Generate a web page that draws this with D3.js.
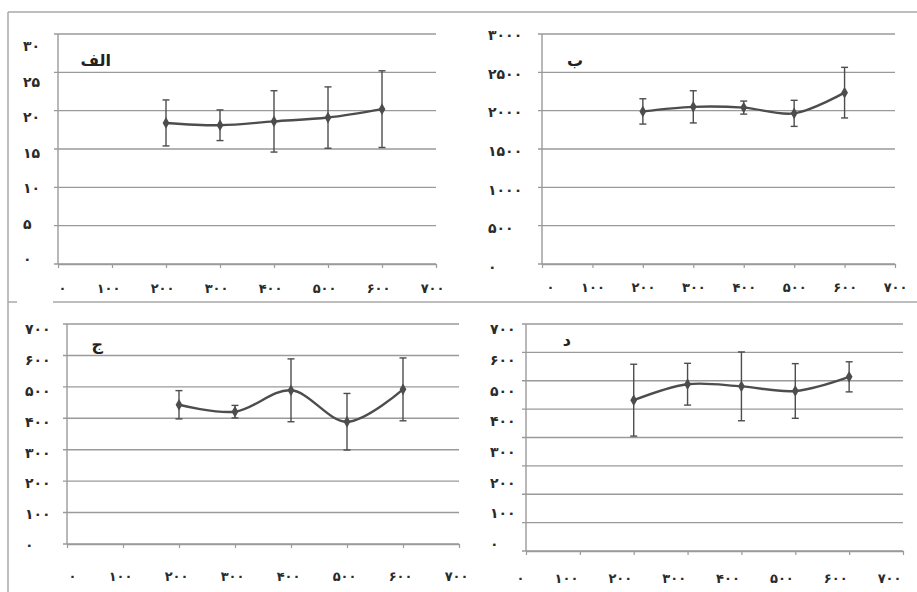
<!DOCTYPE html>
<html>
<head>
<meta charset="utf-8">
<script src="https://cdn.jsdelivr.net/npm/d3@7"></script>
<style>
  html, body { margin: 0; padding: 0; background: #fff; }
  svg { display: block; }
</style>
</head>
<body>
<div id="chart"></div>
<script>
// ---- data ----
const xTicks = [0, 100, 200, 300, 400, 500, 600, 700];
const xValues = [200, 300, 400, 500, 600];

const yTicksA = [0, 5, 10, 15, 20, 25, 30];
const meanA = [18.4, 18.1, 18.6, 19.1, 20.2];
const errA = [3.0, 2.0, 4.0, 4.0, 5.0];

const yTicksB = [0, 500, 1000, 1500, 2000, 2500, 3000];
const meanB = [1990, 2050, 2040, 1965, 2235];
const errB = [165, 210, 85, 170, 330];

const yTicksC = [0, 100, 200, 300, 400, 500, 600, 700];
const meanC = [443, 421, 489, 389, 492];
const errC = [45, 20, 100, 90, 100];

const yTicksD = [0, 100, 200, 300, 400, 500, 600, 700];
const meanD = [465, 517, 510, 495, 541];
const errD = [117, 68, 112, 89, 49];

const titles = ['الف', 'ب', 'ج', 'د'];

// ---- layout ----
const W = 917, H = 592;
const FONT = '"DejaVu Sans", sans-serif';
const INK = '#4d4d4d';
const GRID = '#9a9a9a';
const FRAME = '#a8a8a8';

const fa = d => String(d).replace(/\d/g, c => '۰۱۲۳۴۵۶۷۸۹'[+c]);

// each panel: plot box, where its tick labels sit, and which scale the data uses
const panels = [
    { mean: meanA, err: errA, yTicks: yTicksA, yMax: 30, gridTicks: yTicksA,
      x0: 58, x1: 436, yTop: 34, yBot: 264, labTop: 45, labBot: 258, labLeft: 23,
      xLabY: 293, xLabOff: 8, title: titles[0], tx: 111, ty: 66, dataOn: 'grid' },
    { mean: meanB, err: errB, yTicks: yTicksB, yMax: 3000, gridTicks: yTicksB,
      x0: 542, x1: 895, yTop: 34, yBot: 264, labTop: 34, labBot: 266, labLeft: 488,
      xLabY: 292, xLabOff: 12, title: titles[1], tx: 583, ty: 66, dataOn: 'grid' },
    { mean: meanC, err: errC, yTicks: yTicksC, yMax: 700, gridTicks: yTicksC,
      x0: 67, x1: 459, yTop: 324, yBot: 544, labTop: 328, labBot: 544, labLeft: 25,
      xLabY: 581, xLabOff: 9, title: titles[2], tx: 103, ty: 350, dataOn: 'grid' },
    { mean: meanD, err: errD, yTicks: yTicksD, yMax: 800, gridTicks: d3.range(0, 801, 100),
      x0: 526, x1: 903, yTop: 324, yBot: 551, labTop: 328, labBot: 543, labLeft: 490,
      xLabY: 583, xLabOff: -2, title: titles[3], tx: 571, ty: 346, dataOn: 'label', labMax: 700 }
];

const svg = d3.select('#chart').append('svg')
    .attr('width', W)
    .attr('height', H)
    .style('font-family', FONT);

// outer frame pieces
const frame = svg.append('g').attr('stroke', FRAME).attr('stroke-width', 1.5).attr('fill', 'none');
frame.append('line').attr('x1', 8).attr('x2', W).attr('y1', 12).attr('y2', 12);
frame.append('line').attr('x1', 8).attr('x2', 8).attr('y1', 12).attr('y2', H);
frame.append('line').attr('x1', 53).attr('x2', W).attr('y1', 302).attr('y2', 302);
frame.append('line').attr('x1', 8).attr('x2', 17).attr('y1', 302).attr('y2', 302);

function drawPanel(p) {
    const g = svg.append('g');

    const x = d3.scaleLinear().domain([0, 700]).range([p.x0, p.x1]);
    const gridMax = d3.max(p.gridTicks);
    const yGrid = d3.scaleLinear().domain([0, gridMax]).range([p.yBot, p.yTop]);
    const labMax = p.labMax || p.yMax;
    const yLab = d3.scaleLinear().domain([0, labMax]).range([p.labBot, p.labTop]);
    const y = p.dataOn === 'label' ? yLab : yGrid;

    // gridlines
    g.append('g').selectAll('line')
        .data(p.gridTicks)
        .join('line')
        .attr('x1', p.x0 - 4)
        .attr('x2', p.x1)
        .attr('y1', d => yGrid(d))
        .attr('y2', d => yGrid(d))
        .attr('stroke', GRID)
        .attr('stroke-width', 1.4);

    // y axis line
    g.append('line')
        .attr('x1', p.x0).attr('x2', p.x0)
        .attr('y1', p.yTop).attr('y2', p.yBot)
        .attr('stroke', GRID)
        .attr('stroke-width', 1.4);

    // y tick labels (left aligned column, like the original)
    const yAxis = d3.axisLeft(yLab)
        .tickValues(p.yTicks)
        .tickSize(0)
        .tickFormat(fa);
    const ya = g.append('g')
        .attr('transform', `translate(${p.x0},0)`)
        .call(yAxis);
    ya.select('.domain').remove();
    ya.selectAll('text')
        .attr('x', p.labLeft - p.x0)
        .attr('dy', '0.4em')
        .attr('text-anchor', 'start')
        .attr('font-family', FONT)
        .attr('font-size', 14)
        .attr('font-weight', 'bold')
        .attr('letter-spacing', 1)
        .attr('fill', '#2a2a2a');

    // x axis with small ticks
    const xAxis = d3.axisBottom(x)
        .tickValues(xTicks)
        .tickSize(4)
        .tickSizeOuter(0)
        .tickFormat(fa);
    const xa = g.append('g')
        .attr('transform', `translate(0,${p.yBot})`)
        .call(xAxis);
    xa.select('.domain').attr('stroke', GRID).attr('stroke-width', 1.4);
    xa.selectAll('.tick line').attr('stroke', GRID).attr('stroke-width', 1.2);
    xa.selectAll('text')
        .attr('x', p.xLabOff)
        .attr('y', p.xLabY - p.yBot)
        .attr('dy', 0)
        .attr('text-anchor', 'end')
        .attr('font-family', FONT)
        .attr('font-size', 13)
        .attr('font-weight', 'bold')
        .attr('letter-spacing', 0.5)
        .attr('fill', '#2a2a2a');

    // error bars
    const eb = g.append('g').attr('stroke', INK).attr('stroke-width', 1.4);
    xValues.forEach((xv, i) => {
        const cx = x(xv);
        const hi = y(p.mean[i] + p.err[i]);
        const lo = y(p.mean[i] - p.err[i]);
        eb.append('line').attr('x1', cx).attr('x2', cx).attr('y1', hi).attr('y2', lo);
        eb.append('line').attr('x1', cx - 3.5).attr('x2', cx + 3.5).attr('y1', hi).attr('y2', hi);
        eb.append('line').attr('x1', cx - 3.5).attr('x2', cx + 3.5).attr('y1', lo).attr('y2', lo);
    });

    // smoothed line
    const line = d3.line()
        .x((d, i) => x(xValues[i]))
        .y(d => y(d))
        .curve(d3.curveCatmullRom.alpha(0.5));
    g.append('path')
        .datum(p.mean)
        .attr('fill', 'none')
        .attr('stroke', INK)
        .attr('stroke-width', 2.4)
        .attr('d', line);

    // diamond markers
    g.append('g').selectAll('path')
        .data(p.mean)
        .join('path')
        .attr('transform', (d, i) => `translate(${x(xValues[i])},${y(d)})`)
        .attr('d', d3.symbol(d3.symbolDiamond, 40))
        .attr('fill', INK);

    // panel letter
    g.append('text')
        .attr('x', p.tx)
        .attr('y', p.ty)
        .attr('text-anchor', 'end')
        .attr('font-family', FONT)
        .attr('font-size', 16)
        .attr('font-weight', 'bold')
        .attr('fill', '#222')
        .text(p.title);
}

panels.forEach(drawPanel);
</script>
</body>
</html>
